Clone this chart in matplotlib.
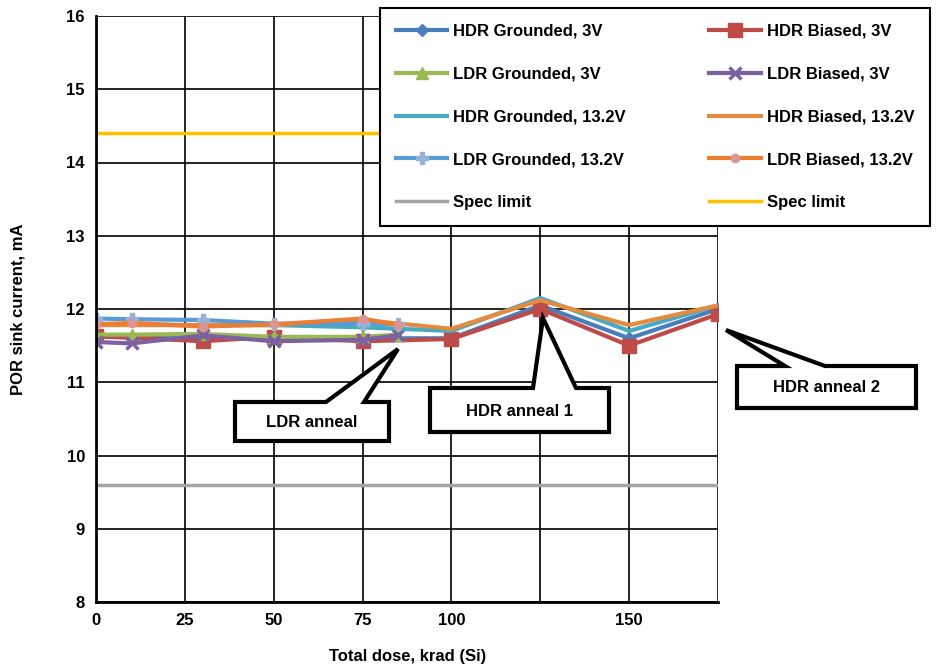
"""
POR sink current vs total dose, HDR/LDR grounded and biased parts.
"""

import numpy as np
import matplotlib
matplotlib.use("Agg")
import matplotlib.pyplot as plt
from matplotlib.patches import Polygon

plt.rcParams['font.family'] = ['Liberation Sans', 'DejaVu Sans']
plt.rcParams['font.weight'] = 'bold'

# dose points, krad(Si)
hdr_dose = [0, 30, 50, 75, 100, 125, 150, 175]
ldr_dose = [0, 10, 30, 50, 75, 85]

# POR sink current, mA
hdr_gnd_3v = [11.62, 11.60, 11.62, 11.60, 11.60, 12.05, 11.60, 12.00]
hdr_bias_3v = [11.63, 11.56, 11.62, 11.56, 11.59, 12.00, 11.50, 11.93]
hdr_gnd_13v = [11.80, 11.78, 11.78, 11.75, 11.70, 12.15, 11.70, 12.05]
hdr_bias_13v = [11.78, 11.78, 11.78, 11.85, 11.73, 12.12, 11.78, 12.05]

ldr_gnd_3v = [11.65, 11.65, 11.66, 11.62, 11.62, 11.65]
ldr_bias_3v = [11.55, 11.53, 11.64, 11.56, 11.58, 11.64]
ldr_gnd_13v = [11.87, 11.86, 11.85, 11.80, 11.80, 11.79]
ldr_bias_13v = [11.79, 11.81, 11.76, 11.79, 11.87, 11.78]

spec_low = 9.6
spec_high = 14.4
spec_span = [0, 175]

x_ticks = [0, 25, 50, 75, 100, 125, 150, 175]
x_tick_labels = ['0', '25', '50', '75', '100', '', '150', '']
y_ticks = [8, 9, 10, 11, 12, 13, 14, 15, 16]

FS = 12
W, H = 945, 665
fig = plt.figure(figsize=(W / 100, H / 100), dpi=100)
ax = fig.add_axes([96 / W, 1 - 602 / H, (718 - 96) / W, (602 - 16) / H])

# (label, x, y, line colour, marker, marker colour, marker size)
series = [
    ('HDR Grounded, 3V', hdr_dose, hdr_gnd_3v, '#4A7EBB', 'D', '#4A7EBB', 6),
    ('HDR Biased, 3V', hdr_dose, hdr_bias_3v, '#BE4B48', 's', '#BE4B48', 10),
    ('LDR Grounded, 3V', ldr_dose, ldr_gnd_3v, '#98B954', '^', '#98B954', 8),
    ('LDR Biased, 3V', ldr_dose, ldr_bias_3v, '#7D60A0', 'x', '#7D60A0', 9),
    ('HDR Grounded, 13.2V', hdr_dose, hdr_gnd_13v, '#46AAC5', None, None, 0),
    ('HDR Biased, 13.2V', hdr_dose, hdr_bias_13v, '#E48B3D', None, None, 0),
    ('LDR Grounded, 13.2V', ldr_dose, ldr_gnd_13v, '#5B9BD5', 'P', '#95B3D7', 9),
    ('LDR Biased, 13.2V', ldr_dose, ldr_bias_13v, '#ED7D31', 'o', '#D99694', 6),
]

handles = {}
for i, (label, xs, ys, color, marker, mcolor, ms) in enumerate(series):
    kw = dict(color=color, linewidth=3, label=label, zorder=3 + i * 0.1)
    if marker:
        kw.update(marker=marker, markersize=ms, markerfacecolor=mcolor,
                  markeredgecolor=mcolor, markeredgewidth=2.5 if marker == 'x' else 1)
    handles[label] = ax.plot(xs, ys, **kw)[0]

h_low = ax.plot(spec_span, [spec_low] * 2, color='#A5A5A5', linewidth=2.5,
                label='Spec limit', zorder=4)[0]
h_high = ax.plot(spec_span, [spec_high] * 2, color='#FFC000', linewidth=2.5,
                 label='Spec limit', zorder=4)[0]

ax.set_xlim(0, 175)
ax.set_ylim(8, 16)
ax.set_xticks(x_ticks)
ax.set_xticklabels(x_tick_labels)
ax.set_yticks(y_ticks)
ax.tick_params(length=0, labelsize=FS, pad=8)
for lbl in ax.get_xticklabels() + ax.get_yticklabels():
    lbl.set_fontweight('bold')
ax.grid(True, color='black', linewidth=1.2)
ax.set_axisbelow(True)
for side in ['top', 'right']:
    ax.spines[side].set_visible(False)
for side in ['left', 'bottom']:
    ax.spines[side].set_linewidth(2)
    ax.spines[side].set_zorder(5)

fig.text(408 / W, 1 - 656 / H, 'Total dose, krad (Si)', ha='center', va='center',
         fontsize=FS, fontweight='bold')
fig.text(18 / W, 1 - 309 / H, 'POR sink current, mA', ha='center', va='center',
         rotation=90, fontsize=FS, fontweight='bold')

# legend, row-major in two columns
order = ['HDR Grounded, 3V', 'LDR Grounded, 3V', 'HDR Grounded, 13.2V',
         'LDR Grounded, 13.2V', None,
         'HDR Biased, 3V', 'LDR Biased, 3V', 'HDR Biased, 13.2V',
         'LDR Biased, 13.2V', None]
leg_handles = []
for j, name in enumerate(order):
    if name is None:
        leg_handles.append(h_low if j < 5 else h_high)
    else:
        leg_handles.append(handles[name])
leg = fig.legend(handles=leg_handles, labels=[h.get_label() for h in leg_handles],
                 ncol=2, loc='upper left', mode='expand',
                 bbox_to_anchor=(380 / W, 1 - 228 / H, (930 - 380) / W, (228 - 8) / H),
                 prop=dict(size=FS, weight='bold'), frameon=True, fancybox=False,
                 edgecolor='black', framealpha=1, numpoints=1, handlelength=3.1,
                 handletextpad=0.36, labelspacing=1.67, borderpad=0.95,
                 columnspacing=1.0, borderaxespad=0)
leg.get_frame().set_linewidth(1.5)
leg.set_zorder(10)


def px(x, y):
    """pixel position -> figure fraction"""
    return (x / W, 1 - y / H)


def callout(box, base, tip, text):
    """rectangle callout with a wedge on its top edge, in pixel coords"""
    x0, y0, x1, y1 = box
    b0, b1 = base
    pts = [(x0, y0), (b0, y0), tip, (b1, y0), (x1, y0), (x1, y1), (x0, y1)]
    poly = Polygon([px(*p) for p in pts], closed=True, transform=fig.transFigure,
                   facecolor='white', edgecolor='black', linewidth=3, zorder=20)
    fig.add_artist(poly)
    fig.text(*px((x0 + x1) / 2, (y0 + y1) / 2 + 1), text, ha='center', va='center',
             fontsize=FS, fontweight='bold', zorder=21)


callout((235, 402, 389, 441), (326, 364), (398, 349), 'LDR anneal')
callout((430, 388, 609, 432), (533, 576), (543, 318), 'HDR anneal 1')
callout((737, 366, 916, 408), (785, 825), (726, 330), 'HDR anneal 2')

fig.savefig('out.png', dpi=100)
